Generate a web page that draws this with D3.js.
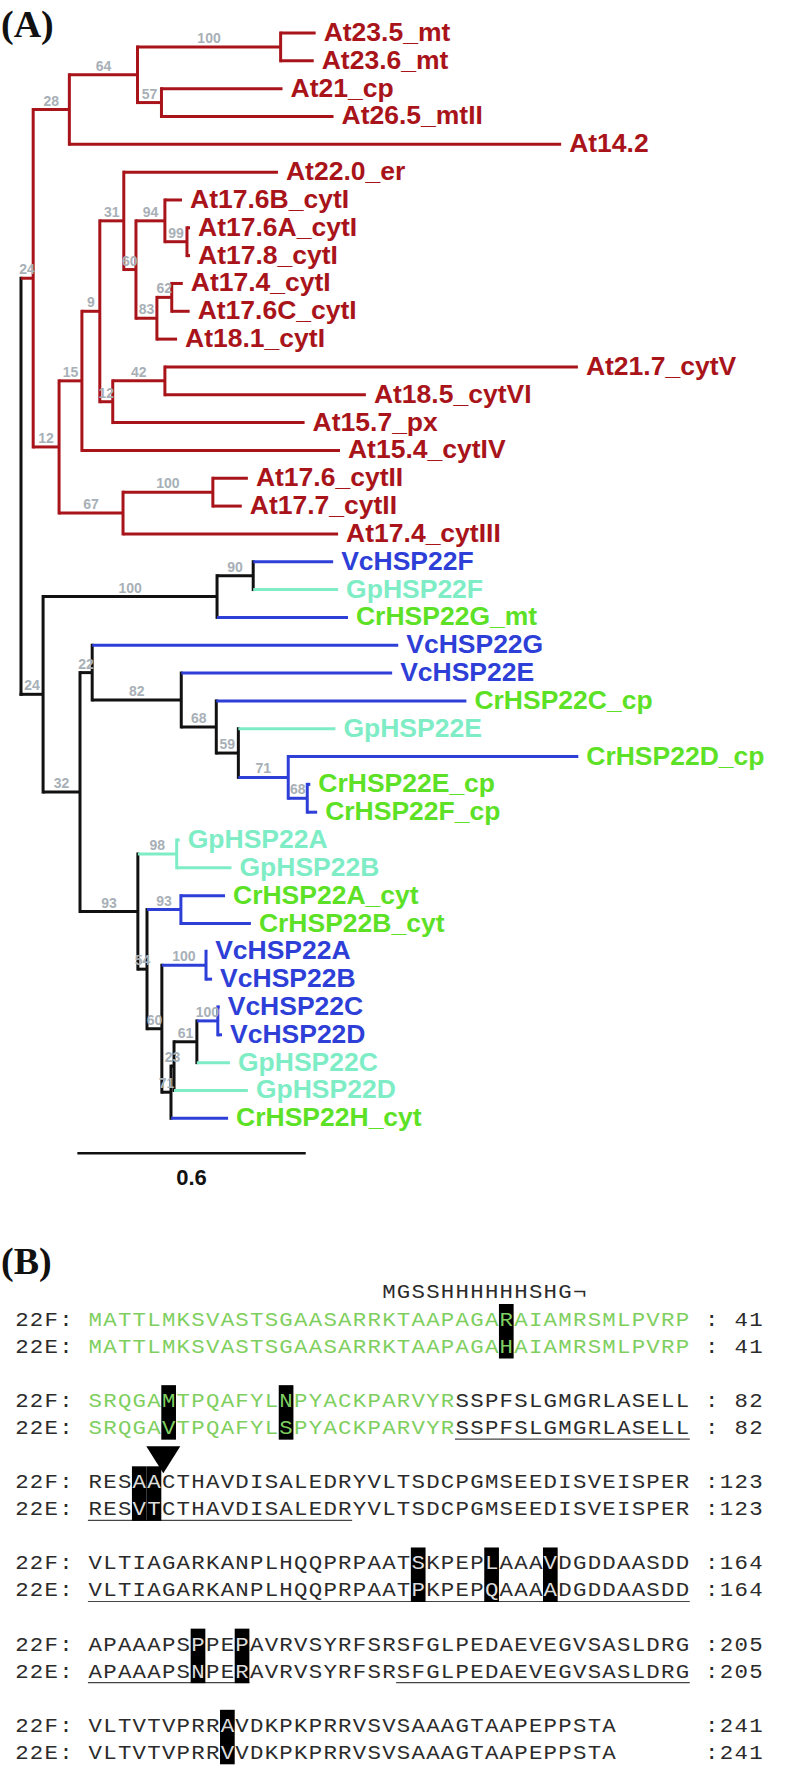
<!DOCTYPE html>
<html><head><meta charset="utf-8">
<script src="https://cdn.jsdelivr.net/npm/d3@7/dist/d3.min.js"></script>
<style>html,body{margin:0;padding:0;background:#fff}svg{display:block}</style>
</head><body>
<svg id="fig" width="796" height="1776"></svg>
<script>
// ---------- DATA ----------
// Tree (Newick, branch lengths in substitutions/site, internal labels = bootstrap)
const treeNewick =
 "(((((At23.5_mt:0.092,At23.6_mt:0.087)100:0.376,(At21_cp:0.318,At26.5_mtII:0.452)57:0.063)64:0.179,At14.2:1.292)28:0.095," +
 "((((At22.0_er:0.405,((At17.6B_cytI:0.045,(At17.6A_cytI:0.008,At17.8_cytI:0.008)99:0.058)94:0.076,((At17.4_cytI:0.029,At17.6C_cytI:0.047)62:0.039,At18.1_cytI:0.053)83:0.055)60:0.032)31:0.063," +
 "((At21.7_cytV:1.085,At18.5_cytVI:0.528)42:0.137,At15.7_px:0.504)12:0.034)9:0.047,At15.4_cytIV:0.678)15:0.060," +
 "((At17.6_cytII:0.092,At17.7_cytII:0.076)100:0.236,At17.4_cytIII:0.565)67:0.168)12:0.068)24:0.032," +
 "((((VcHSP22F:0.210,GpHSP22F:0.223)90:0.095,CrHSP22G_mt:0.344)100:0.457," +
 "((VcHSP22G:0.804,(VcHSP22E:0.554,(CrHSP22C_cp:0.657,(GpHSP22E:0.255,(CrHSP22D_cp:0.762,(CrHSP22E_cp:0.008,CrHSP22F_cp:0.026)68:0.050)71:0.131)59:0.058)68:0.092)82:0.234)22:0.032," +
 "((GpHSP22A:0.008,GpHSP22B:0.144)98:0.102,((CrHSP22A_cyt:0.116,CrHSP22B_cyt:0.184)93:0.089," +
 "((VcHSP22A:0.003,VcHSP22B:0.016)100:0.116,((((VcHSP22C:0.005,VcHSP22D:0.011)100:0.055,GpHSP22C:0.087)61:0.060,GpHSP22D:0.194)23:0.008,CrHSP22H_cyt:0.150)71:0.024)60:0.039)54:0.024)93:0.152)32:0.097)24:0.058);";
const scaleBarValue = 0.6;
const scaleBarLabel = "0.6";
const groupPrefixes = ["At", "Vc", "Gp", "Cr"];
const labelColors  = ["#a8141a", "#2e3fd8", "#7eedc6", "#5de126"];
const branchColors = ["#a8141a", "#2e3fd8", "#7eedc6", "#2e3fd8"];

// Alignment
const alnF = [
 "MATTLMKSVASTSGAASARRKTAAPAGARAIAMRSMLPVRP",
 "SRQGAMTPQAFYLNPYACKPARVYRSSPFSLGMGRLASELL",
 "RESAACTHAVDISALEDRYVLTSDCPGMSEEDISVEISPER",
 "VLTIAGARKANPLHQQPRPAATSKPEPLAAAVDGDDAASDD",
 "APAAAPSPPEPAVRVSYRFSRSFGLPEDAEVEGVSASLDRG",
 "VLTVTVPRRAVDKPKPRRVSVSAAAGTAAPEPPSTA"];
const alnE = [
 "MATTLMKSVASTSGAASARRKTAAPAGAHAIAMRSMLPVRP",
 "SRQGAVTPQAFYLSPYACKPARVYRSSPFSLGMGRLASELL",
 "RESVTCTHAVDISALEDRYVLTSDCPGMSEEDISVEISPER",
 "VLTIAGARKANPLHQQPRPAATPKPEPQAAAADGDDAASDD",
 "APAAAPSNPERAVRVSYRFSRSFGLPEDAEVEGVSASLDRG",
 "VLTVTVPRRVVDKPKPRRVSVSAAAGTAAPEPPSTA"];
const rowNames = ["22F:", "22E:"];
const alnEnd = [41, 82, 123, 164, 205, 241];
const greenCount = [41, 25, 0, 0, 0, 0];
const underlineE = [[], [[25,40]], [[0,17]], [[0,40]], [[0,10],[21,40]], []];
const tagText = "MGSSHHHHHHSHG\u00AC";
const tagStartResidue = 20;     // residue index in block 1 where the tag text begins
const cleavageBlock = 2, cleavageAfter = 5; // arrow between residues 4 and 5 of block 3

// ---------- DRAW ----------
const svg = d3.select("#fig");
svg.append("rect").attr("width", 796).attr("height", 1776).attr("fill", "#fff");

// Panel labels
svg.append("text").attr("x", 1).attr("y", 37).text("(A)")
  .attr("font-family", "'Liberation Serif','Times New Roman',serif").attr("font-weight", "bold").attr("font-size", 38).attr("fill", "#111");
svg.append("text").attr("x", 1).attr("y", 1274).text("(B)")
  .attr("font-family", "'Liberation Serif','Times New Roman',serif").attr("font-weight", "bold").attr("font-size", 38).attr("fill", "#111");

// Parse Newick
function parseNewick(s) {
  let i = 0;
  function node() {
    const n = { children: [] };
    if (s[i] === "(") {
      i++;
      n.children.push(node());
      while (s[i] === ",") { i++; n.children.push(node()); }
      i++;
    }
    let name = "";
    while (i < s.length && !",():;".includes(s[i])) name += s[i++];
    n.name = name;
    n.len = 0;
    if (s[i] === ":") {
      i++;
      let l = "";
      while (i < s.length && !",();".includes(s[i])) l += s[i++];
      n.len = +l;
    }
    if (!n.children.length) delete n.children;
    return n;
  }
  return node();
}

const root = d3.hierarchy(parseNewick(treeNewick));
root.eachBefore(d => { d.u = d.parent ? d.parent.u + d.data.len : 0; });
const leaves = root.leaves();

const x = d3.scaleLinear().domain([0, scaleBarValue]).range([21, 249.4]);
const y = d3.scaleLinear().domain([0, leaves.length - 1]).range([33, 1118.3]);

leaves.forEach((d, i) => { d.yy = y(i); });
root.eachAfter(d => {
  if (d.children) d.yy = (d.children[0].yy + d.children[d.children.length - 1].yy) / 2;
});

function groupOf(name) { return groupPrefixes.findIndex(p => name.startsWith(p)); }
root.eachAfter(d => {
  if (!d.children) {
    const g = groupOf(d.data.name);
    d.bcol = branchColors[g];
    d.lcol = labelColors[g];
  } else {
    const cols = new Set(d.leaves().map(l => branchColors[groupOf(l.data.name)]));
    d.bcol = cols.size === 1 ? [...cols][0] : "#111";
  }
});

const gTree = svg.append("g");
const lw = 3;
// vertical connectors
root.descendants().filter(d => d.children).forEach(d => {
  const c = d.children;
  gTree.append("line")
    .attr("x1", x(d.u)).attr("x2", x(d.u))
    .attr("y1", c[0].yy - lw / 2).attr("y2", c[c.length - 1].yy + lw / 2)
    .attr("stroke", d.bcol).attr("stroke-width", lw);
});
// horizontal branches
root.descendants().filter(d => d.parent).forEach(d => {
  gTree.append("line")
    .attr("x1", x(d.parent.u)).attr("x2", x(d.u))
    .attr("y1", d.yy).attr("y2", d.yy)
    .attr("stroke", d.bcol).attr("stroke-width", lw);
});
// bootstrap labels
root.descendants().filter(d => d.parent && d.children && d.data.name).forEach(d => {
  gTree.append("text")
    .attr("x", (x(d.parent.u) + x(d.u)) / 2).attr("y", d.yy - 4)
    .attr("text-anchor", "middle")
    .attr("font-family", "'Liberation Sans',Arial,sans-serif").attr("font-weight", "bold")
    .attr("font-size", 14).attr("fill", "#a8b0b7")
    .text(d.data.name);
});
// tip labels
leaves.forEach(d => {
  gTree.append("text")
    .attr("x", x(d.u) + 8).attr("y", d.yy + 8)
    .attr("font-family", "'Liberation Sans',Arial,sans-serif").attr("font-weight", "bold")
    .attr("font-size", 26.5).attr("fill", d.lcol)
    .text(d.data.name);
});
// scale bar
const sbStart = 0.148;
svg.append("line").attr("x1", x(sbStart)).attr("x2", x(sbStart + scaleBarValue))
  .attr("y1", 1153.3).attr("y2", 1153.3).attr("stroke", "#111").attr("stroke-width", 2.5);
svg.append("text").attr("x", (x(sbStart) + x(sbStart + scaleBarValue)) / 2).attr("y", 1185)
  .attr("text-anchor", "middle").attr("font-family", "'Liberation Sans',Arial,sans-serif")
  .attr("font-weight", "bold").attr("font-size", 22).attr("fill", "#111").text(scaleBarLabel);

// ---------- ALIGNMENT ----------
const col = d3.scaleLinear().domain([0, 51]).range([14.5, 14.5 + 51 * 14.68]);
const blockY = d3.scaleLinear().domain([0, 5]).range([1326, 1731.8]);
const rowGap = 27;
const seqCol0 = 5;
const green = "#7fcf60", ink = "#2b2b2b";
const gA = svg.append("g").attr("font-family", "'Liberation Mono','Courier New',monospace").attr("font-size", 20);

function putChar(ch, c, yb, fill) {
  gA.append("text")
    .attr("transform", `translate(${col(c + 0.5)},${yb}) scale(1.12,1)`)
    .attr("text-anchor", "middle")
    .attr("fill", fill).text(ch);
}

// His tag line
[...tagText].forEach((ch, k) => putChar(ch, seqCol0 + tagStartResidue + k, blockY(0) - 28, ink));

alnF.forEach((sf, b) => {
  const se = alnE[b];
  const yF = blockY(b), yE = yF + rowGap;
  // underlines
  underlineE[b].forEach(([a, z]) => {
    gA.append("line").attr("x1", col(seqCol0 + a)).attr("x2", col(seqCol0 + z + 1))
      .attr("y1", yE + 5).attr("y2", yE + 5).attr("stroke", "#444").attr("stroke-width", 1.2);
  });
  // highlight boxes at differing residues
  const diffs = [];
  for (let k = 0; k < sf.length; k++) if (sf[k] !== se[k]) diffs.push(k);
  diffs.forEach(k => {
    gA.append("rect").attr("x", col(seqCol0 + k)).attr("width", col(1) - col(0))
      .attr("y", yF - 22).attr("height", (yE + 5.5) - (yF - 22)).attr("fill", "#000");
  });
  [[sf, yF, 0], [se, yE, 1]].forEach(([s, yb, r]) => {
    [...rowNames[r]].forEach((ch, k) => putChar(ch, k, yb, ink));
    [...s].forEach((ch, k) => {
      const isGreen = k < greenCount[b];
      const boxed = diffs.includes(k);
      const fill = isGreen ? green : (boxed ? "#dcdcdc" : ink);
      putChar(ch, seqCol0 + k, yb, fill);
    });
    putChar(":", 47, yb, ink);
    const num = String(alnEnd[b]);
    [...num].forEach((ch, k) => putChar(ch, 51 - num.length + k, yb, ink));
  });
});

// cleavage arrowhead
{
  const cx = col(seqCol0 + cleavageAfter) + 2;
  const yTop = blockY(cleavageBlock) - 42, yTip = blockY(cleavageBlock) - 15;
  svg.append("path").attr("d", `M${cx - 17},${yTop}L${cx + 17},${yTop}L${cx},${yTip}Z`).attr("fill", "#000");
}
</script>
</body></html>
